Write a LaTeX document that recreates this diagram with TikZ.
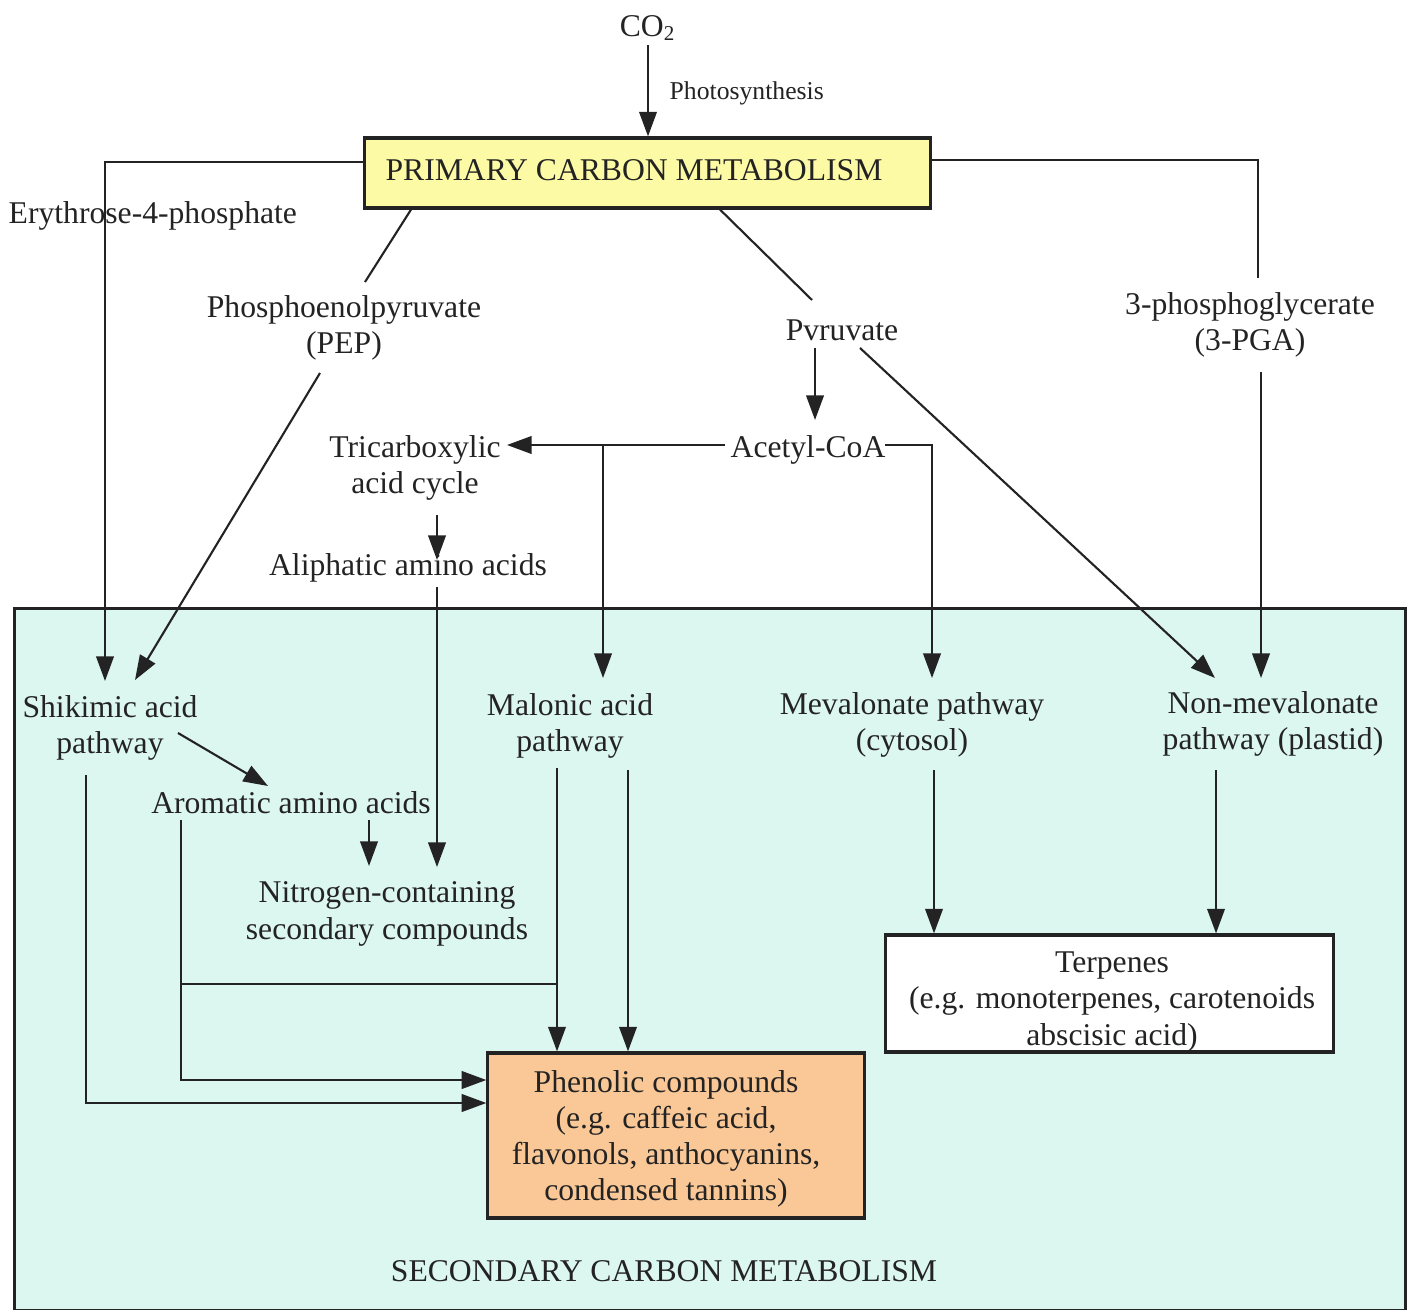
\documentclass[tikz,border=0pt]{standalone}
\usepackage{fontspec}
\setmainfont{Liberation Serif}
\usetikzlibrary{arrows.meta,calc}
\definecolor{ink}{RGB}{35,35,35}
\definecolor{yellowbox}{RGB}{252,250,165}
\definecolor{cyanbg}{RGB}{220,246,240}
\definecolor{orangebox}{RGB}{250,200,150}
\begin{document}
\begin{tikzpicture}[x=0.01cm,y=-0.01cm,
  lbl/.style={font=\fontsize{9}{10.3}\selectfont, align=center, inner sep=0pt, text=ink},
  boxstyle/.style={draw=ink, line width=0.9pt, inner sep=0pt},
  ln/.style={draw=ink, line width=0.6pt},
  arr/.style={draw=ink, line width=0.6pt, -{Triangle[length=7pt,width=5pt]}},
]
\useasboundingbox (0,0) rectangle (1410,1310);

% secondary metabolism background
\node[boxstyle, fill=cyanbg, minimum width=13.9cm, minimum height=7.02cm, anchor=north west] (sec) at (13,607) {};

% primary box
\node[boxstyle, fill=yellowbox, minimum width=5.65cm, minimum height=0.70cm] (primary) at (647.5,173) {};
\node[lbl] (primtext) at (634,170) {PRIMARY CARBON METABOLISM};

% labels
\node[lbl] (co2) at (648,28) {CO\textsubscript{2}};
\node[lbl, font=\fontsize{7.3}{9}\selectfont, anchor=west] (photo) at (669,93) {Photosynthesis};
\node[lbl, anchor=west] (e4p) at (8,216) {Erythrose-4-phosphate};
\node[lbl] (pep) at (344,328) {Phosphoenolpyruvate\\(PEP)};
\node[lbl] (pyr) at (842,330) {Pvruvate};
\node[lbl] (pga) at (1250,325) {3-phosphoglycerate\\(3-PGA)};
\node[lbl] (acoa) at (808,450) {Acetyl-CoA};
\node[lbl] (tca) at (415,468) {Tricarboxylic\\acid cycle};
\node[lbl] (ali) at (408,568) {Aliphatic amino acids};
\node[lbl] (shik) at (110,728) {Shikimic acid\\pathway};
\node[lbl] (arom) at (291,803) {Aromatic amino acids};
\node[lbl] (nitro) at (387,914) {Nitrogen-containing\\secondary compounds};
\node[lbl] (mal) at (570,726) {Malonic acid\\pathway};
\node[lbl] (mev) at (912,725) {Mevalonate pathway\\(cytosol)};
\node[lbl] (nmev) at (1273,724) {Non-mevalonate\\pathway (plastid)};
\node[lbl] (seclbl) at (664,1271) {SECONDARY CARBON METABOLISM};

% product boxes
\node[boxstyle, fill=orangebox, minimum width=3.76cm, minimum height=1.65cm] (phen) at (676,1135.5) {};
\node[lbl] (phentext) at (666,1139) {Phenolic compounds\\(e.g. caffeic acid,\\flavonols, anthocyanins,\\condensed tannins)};
\node[boxstyle, fill=white, minimum width=4.47cm, minimum height=1.17cm] (terp) at (1109.5,993.5) {};
\node[lbl] (terptext) at (1112,1002) {Terpenes\\(e.g. monoterpenes, carotenoids\\abscisic acid)};

% connector end coordinates
\coordinate (co2B) at (648,45);
\coordinate (shikA) at (105,681);
\coordinate (pepT) at (365,282);
\coordinate (pepB) at (320,373);
\coordinate (shikB) at (135,680);
\coordinate (pyrT) at (812,300);
\coordinate (pyrB) at (815,348);
\coordinate (acoaT) at (815,420);
\coordinate (pyrD) at (860,348);
\coordinate (nmA) at (1215,678);
\coordinate (acoaL) at (725,445);
\coordinate (tcaR) at (507,445);
\coordinate (malA) at (603,678);
\coordinate (acoaR) at (885,445);
\coordinate (mevA) at (932,678);
\coordinate (pgaT) at (1258,278);
\coordinate (pgaB) at (1261,372);
\coordinate (nmB) at (1261,678);
\coordinate (tcaB) at (437,515);
\coordinate (aliT) at (437,560);
\coordinate (aliB) at (437,587);
\coordinate (nitA) at (437,867);
\coordinate (shikD) at (178,733);
\coordinate (aromA) at (268,786);
\coordinate (aromB) at (369,820);
\coordinate (nitB) at (369,866);
\coordinate (shikV) at (86,775);
\coordinate (aromV) at (181,820);
\coordinate (join) at (181,984);
\coordinate (malL) at (557,768);
\coordinate (malR) at (628,770);
\coordinate (mevB) at (934,770);
\coordinate (nmC) at (1216,770);

% connectors
\draw[arr] (co2B) -- (co2B |- primary.north);
\draw[arr] (primary.west |- 0,162) -| (shikA);
\draw[ln] (primary.south -| 411,0) -- (pepT);
\draw[arr] (pepB) -- (shikB);
\draw[ln] (primary.south -| 720,0) -- (pyrT);
\draw[arr] (pyrB) -- (acoaT);
\draw[arr] (pyrD) -- (nmA);
\draw[arr] (acoaL) -- (tcaR);
\draw[arr] (malA |- acoaL) -- (malA);
\draw[arr] (acoaR) -| (mevA);
\draw[ln] (primary.east |- 0,160) -| (pgaT);
\draw[arr] (pgaB) -- (nmB);
\draw[arr] (tcaB) -- (aliT);
\draw[arr] (aliB) -- (nitA);
\draw[arr] (shikD) -- (aromA);
\draw[arr] (aromB) -- (nitB);
\draw[arr] (shikV) |- (phen.west |- 0,1103);
\draw[arr] (aromV) |- (phen.west |- 0,1080);
\draw[ln] (join) -- (join -| malL);
\draw[arr] (malL) -- (malL |- phen.north);
\draw[arr] (malR) -- (malR |- phen.north);
\draw[arr] (mevB) -- (mevB |- terp.north);
\draw[arr] (nmC) -- (nmC |- terp.north);
\end{tikzpicture}
\end{document}
